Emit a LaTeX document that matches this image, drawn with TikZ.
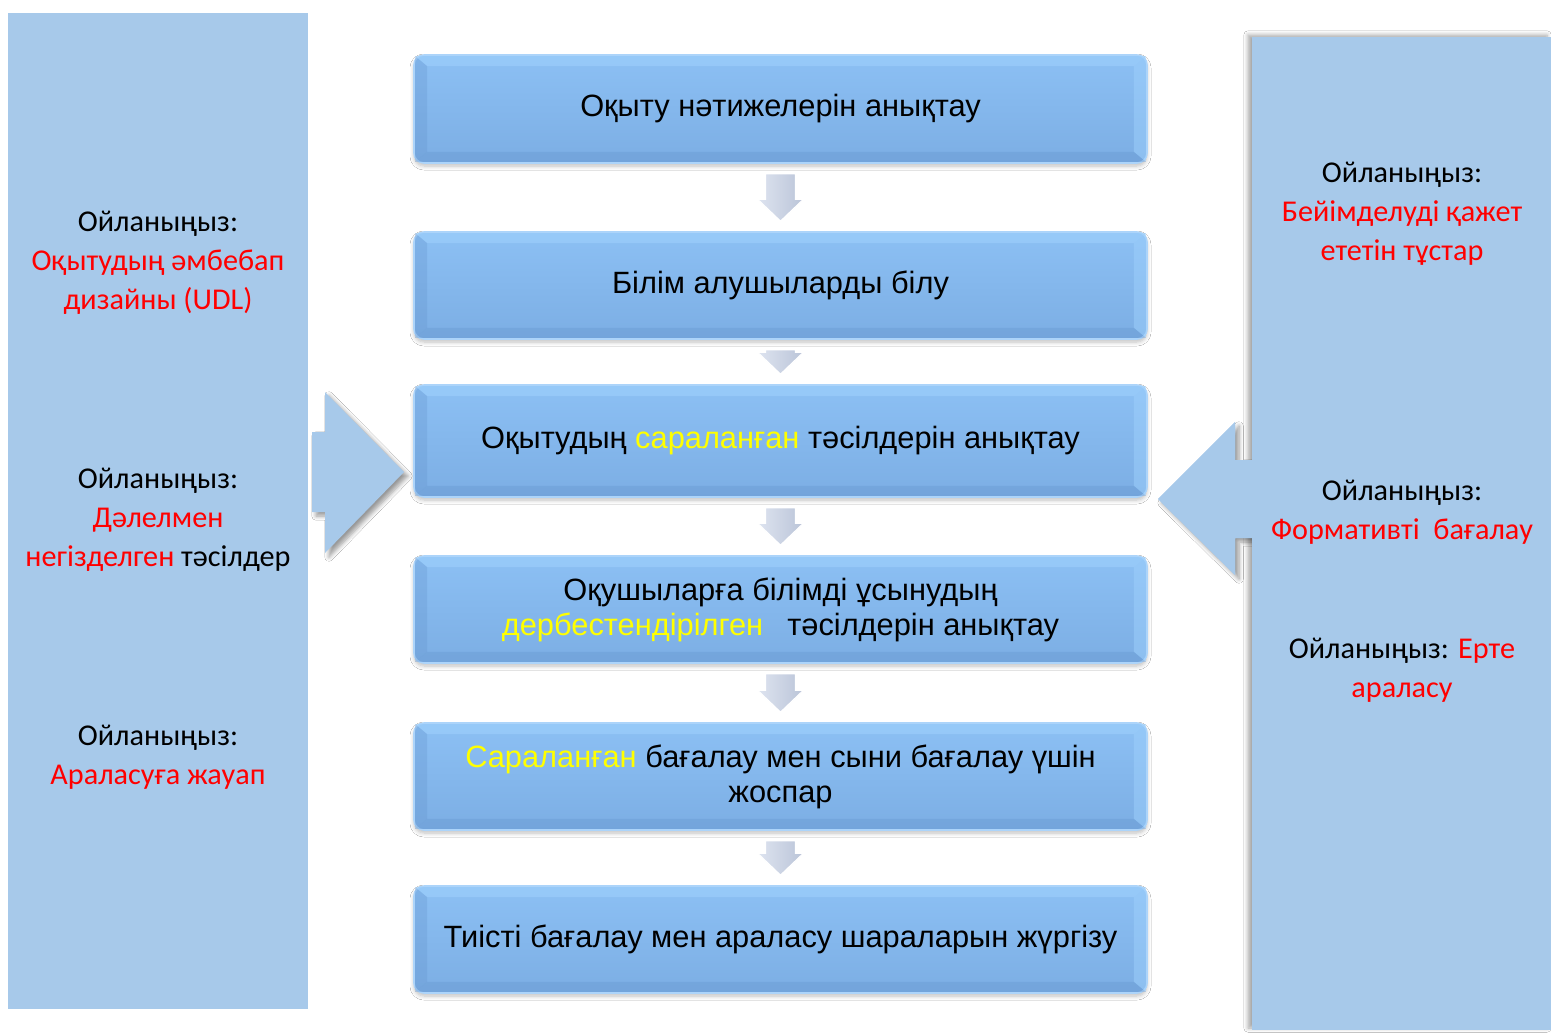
\documentclass[tikz,border=0pt]{standalone}
\usepackage{fontspec}
\setmainfont{Liberation Sans}
\newfontfamily\sidefont{Carlito}
\usetikzlibrary{calc,shadows.blur}
\definecolor{panel}{RGB}{167,201,234}
\definecolor{boxtop}{RGB}{140,192,244}
\definecolor{boxbot}{RGB}{124,174,228}
\definecolor{boxedge}{RGB}{172,212,250}
\definecolor{bevlight}{RGB}{158,208,252}
\definecolor{bevdark}{RGB}{100,148,205}
\definecolor{arrL}{RGB}{222,228,240}
\definecolor{arrR}{RGB}{186,196,216}
\definecolor{hl}{RGB}{255,255,0}
\definecolor{rd}{RGB}{255,0,0}
\tikzset{
  sidepanel/.style={fill=panel,draw=none},
  stepbox/.style={rounded corners=5pt,top color=boxtop,bottom color=boxbot,draw=boxedge,line width=0.8pt,
    minimum width=366.5pt,inner sep=0pt,
    blur shadow={shadow xshift=0pt,shadow yshift=-1.5pt,shadow blur steps=6,shadow blur radius=2pt,shadow opacity=25}},
  boxtext/.style={font=\fontsize{15.4}{17.5}\selectfont,align=center,text=black},
  sidetext/.style={font=\sidefont\fontsize{15.1}{19.5}\selectfont,align=center,text=black},
  arrowshadow/.style={fill=panel,draw=none,blur shadow={shadow xshift=2pt,shadow yshift=-2pt,shadow blur steps=6,shadow opacity=40}},
  arrowfill/.style={fill=panel,draw=none},
  smallarrow/.style={left color=arrL,right color=arrR,draw=white,line width=0.6pt,line join=miter}
}
\begin{document}
\begin{tikzpicture}[x=0.5pt,y=-0.5pt]
\useasboundingbox (0,0) rectangle (1551,1033);
\fill[white] (0,0) rectangle (1551,1033);
% left panel and arrow
\node[sidepanel,minimum width=150pt,minimum height=498pt,inner sep=0pt] (lp) at (158,511) {};
\path[arrowshadow] (312,432) -- (325,432) -- (325,392) -- (404,472) -- (325,553) -- (325,512) -- (312,512) -- cycle;
% right arrow (shadow), panel, arrow again on top
\path[arrowshadow] (1256,460) -- (1235,460) -- (1235,422) -- (1158,499) -- (1235,575) -- (1235,538) -- (1256,538) -- cycle;
\node[sidepanel,minimum width=149.5pt,minimum height=496.5pt,inner sep=0pt,
  blur shadow={shadow xshift=-2pt,shadow yshift=1pt,shadow blur steps=6,shadow opacity=35}] (rp) at (1401.5,533.5) {};
\path[arrowfill] (1258,460) -- (1235,460) -- (1235,422) -- (1158,499) -- (1235,575) -- (1235,538) -- (1258,538) -- cycle;
% center boxes
\node[stepbox,minimum height=54pt] (b1) at (780.5,109) {};
\node[stepbox,minimum height=53.5pt] (b2) at (780.5,285.5) {};
\node[stepbox,minimum height=56pt] (b3) at (780.5,441) {};
\node[stepbox,minimum height=53.5pt] (b4) at (780.5,609.5) {};
\node[stepbox,minimum height=53.5pt] (b5) at (780.5,776.5) {};
\node[stepbox,minimum height=53.5pt] (b6) at (780.5,939.5) {};
% bevels
\foreach \n in {b1,b2,b3,b4,b5,b6}{
  \coordinate (nw) at ($(\n.north west)+(2,2)$);
  \coordinate (ne) at ($(\n.north east)+(-2,2)$);
  \coordinate (sw) at ($(\n.south west)+(2,-2)$);
  \coordinate (se) at ($(\n.south east)+(-2,-2)$);
  \fill[bevlight,opacity=0.6] (nw) -- (ne) -- ($(ne)+(-12,10)$) -- ($(nw)+(12,10)$) -- cycle;
  \fill[bevdark,opacity=0.3] (nw) -- ($(nw)+(12,10)$) -- ($(sw)+(12,-10)$) -- (sw) -- cycle;
  \fill[bevlight,opacity=0.5] (ne) -- ($(ne)+(-12,10)$) -- ($(se)+(-12,-10)$) -- (se) -- cycle;
  \fill[bevdark,opacity=0.35] (sw) -- ($(sw)+(12,-10)$) -- ($(se)+(-12,-10)$) -- (se) -- cycle;
}
% small down arrows
\foreach \a/\b in {b1/b2,b2/b3,b3/b4,b4/b5,b5/b6}{
  \coordinate (top) at ($(\a.south)+(0,10)$);
  \coordinate (tip) at ($(\b.north)+(0,-10)$);
  \path[smallarrow] ($(top)+(-15,0)$) -- ($(tip)+(-15,-22)$) -- ($(tip)+(-23,-22)$) -- (tip)
     -- ($(tip)+(23,-22)$) -- ($(tip)+(15,-22)$) -- ($(top)+(15,0)$) -- cycle;
}
% box texts
\node[boxtext] (t1) at (b1) {Оқыту нәтижелерін анықтау};
\node[boxtext] (t2) at (b2) {Білім алушыларды білу};
\node[boxtext] (t3) at (b3) {Оқытудың \textcolor{hl}{сараланған} тәсілдерін анықтау};
\node[boxtext] (t4) at (b4) {Оқушыларға білімді ұсынудың\\\textcolor{hl}{дербестендірілген}\hspace{12pt}тәсілдерін анықтау};
\node[boxtext] (t5) at (b5) {\textcolor{hl}{Сараланған} бағалау мен сыни бағалау үшін\\жоспар};
\node[boxtext] (t6) at (b6) {Тиісті бағалау мен араласу шараларын жүргізу};
% side texts
\node[sidetext] (l1) at (158,262.5) {Ойланыңыз:\\\textcolor{rd}{Оқытудың әмбебап}\\\textcolor{rd}{дизайны (UDL)}};
\node[sidetext] (l2) at (158,520) {Ойланыңыз:\\\textcolor{rd}{Дәлелмен}\\\textcolor{rd}{негізделген} тәсілдер};
\node[sidetext] (l3) at (158,757.5) {Ойланыңыз:\\\textcolor{rd}{Араласуға жауап}};
\node[sidetext] (r1) at (1402,214) {Ойланыңыз:\\\textcolor{rd}{Бейімделуді қажет}\\\textcolor{rd}{ететін тұстар}};
\node[sidetext] (r2) at (1402,512) {Ойланыңыз:\\\textcolor{rd}{Формативті\ \ бағалау}};
\node[sidetext] (r3) at (1402,670.5) {Ойланыңыз: \textcolor{rd}{Ерте}\\\textcolor{rd}{араласу}};
\end{tikzpicture}
\end{document}
